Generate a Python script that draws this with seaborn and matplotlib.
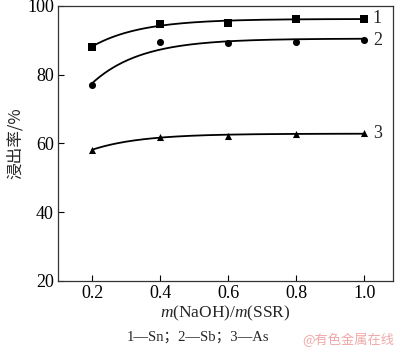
import numpy as np
import pandas as pd
import seaborn as sns
import matplotlib.pyplot as plt

ratio = [0.2, 0.4, 0.6, 0.8, 1.0]
sn = [88.1, 94.8, 95.1, 96.2, 96.3]
sb = [77.0, 89.5, 89.1, 89.6, 90.1]
as_ = [58.1, 62.0, 62.2, 62.8, 62.9]
labels = ["1", "2", "3"]
markers = ["s", "o", "^"]


def saturation_fit(x, y):
    # smooth trend y = a - b*exp(-k*x); scan k, least squares for a, b
    x = np.asarray(x)
    y = np.asarray(y)
    best = None
    for k in np.linspace(1, 7, 200):
        A = np.column_stack([np.ones_like(x), -np.exp(-k * x)])
        coef, *_ = np.linalg.lstsq(A, y, rcond=None)
        err = np.sum((A @ coef - y) ** 2)
        if best is None or err < best[0]:
            best = (err, k, coef)
    _, k, (a, b) = best
    xs = np.linspace(x.min(), x.max(), 200)
    return xs, a - b * np.exp(-k * xs)


sns.set_style("ticks")
plt.rcParams["font.family"] = ["Liberation Serif", "Noto Sans CJK SC"]
plt.rcParams["mathtext.fontset"] = "custom"
plt.rcParams["mathtext.rm"] = "Liberation Serif"
plt.rcParams["mathtext.it"] = "Liberation Serif:italic"

fig = plt.figure(figsize=(4.0, 3.52), dpi=100)
ax = fig.add_axes([0.145, 0.202, 0.838, 0.781])

for ys, lab, mk in zip([sn, sb, as_], labels, markers):
    xs, fit = saturation_fit(ratio, ys)
    sns.lineplot(x=xs, y=fit, ax=ax, color="black", linewidth=1.3)
    sns.scatterplot(x=ratio, y=ys, ax=ax, marker=mk, color="black",
                    s=26, linewidth=0)
    ax.text(1.025, ys[-1], lab, fontsize=13, va="center", ha="left")

ax.set_xlim(0.1, 1.085)
ax.set_ylim(20, 100)
ax.set_xticks([0.2, 0.4, 0.6, 0.8, 1.0])
ax.set_xticklabels(["0.2", "0.4", "0.6", "0.8", "1.0"])
ax.set_yticks([20, 40, 60, 80, 100])
ax.tick_params(direction="in", length=4, width=0.8, labelsize=13, colors="black", pad=3)
for s in ax.spines.values():
    s.set_visible(True)
    s.set_linewidth(0.9)
    s.set_color("#333333")

ax.set_xlabel("$m$(NaOH)/$m$(SSR)", fontsize=12.5, labelpad=1)
ax.set_ylabel("浸出率/%", fontsize=12, family=["Noto Sans CJK SC", "DejaVu Sans"], labelpad=2)

fig.text(0.495, 0.043, "1—Sn；2—Sb；3—As", fontsize=10.5, ha="center", va="center",
         family=["Liberation Serif", "Noto Sans CJK SC"])
fig.text(0.985, 0.033, "@有色金属在线", fontsize=9.5, ha="right", va="center",
         color="#f0a8a8", family=["Noto Sans CJK SC", "DejaVu Sans"])

fig.savefig("out.png", dpi=100)
